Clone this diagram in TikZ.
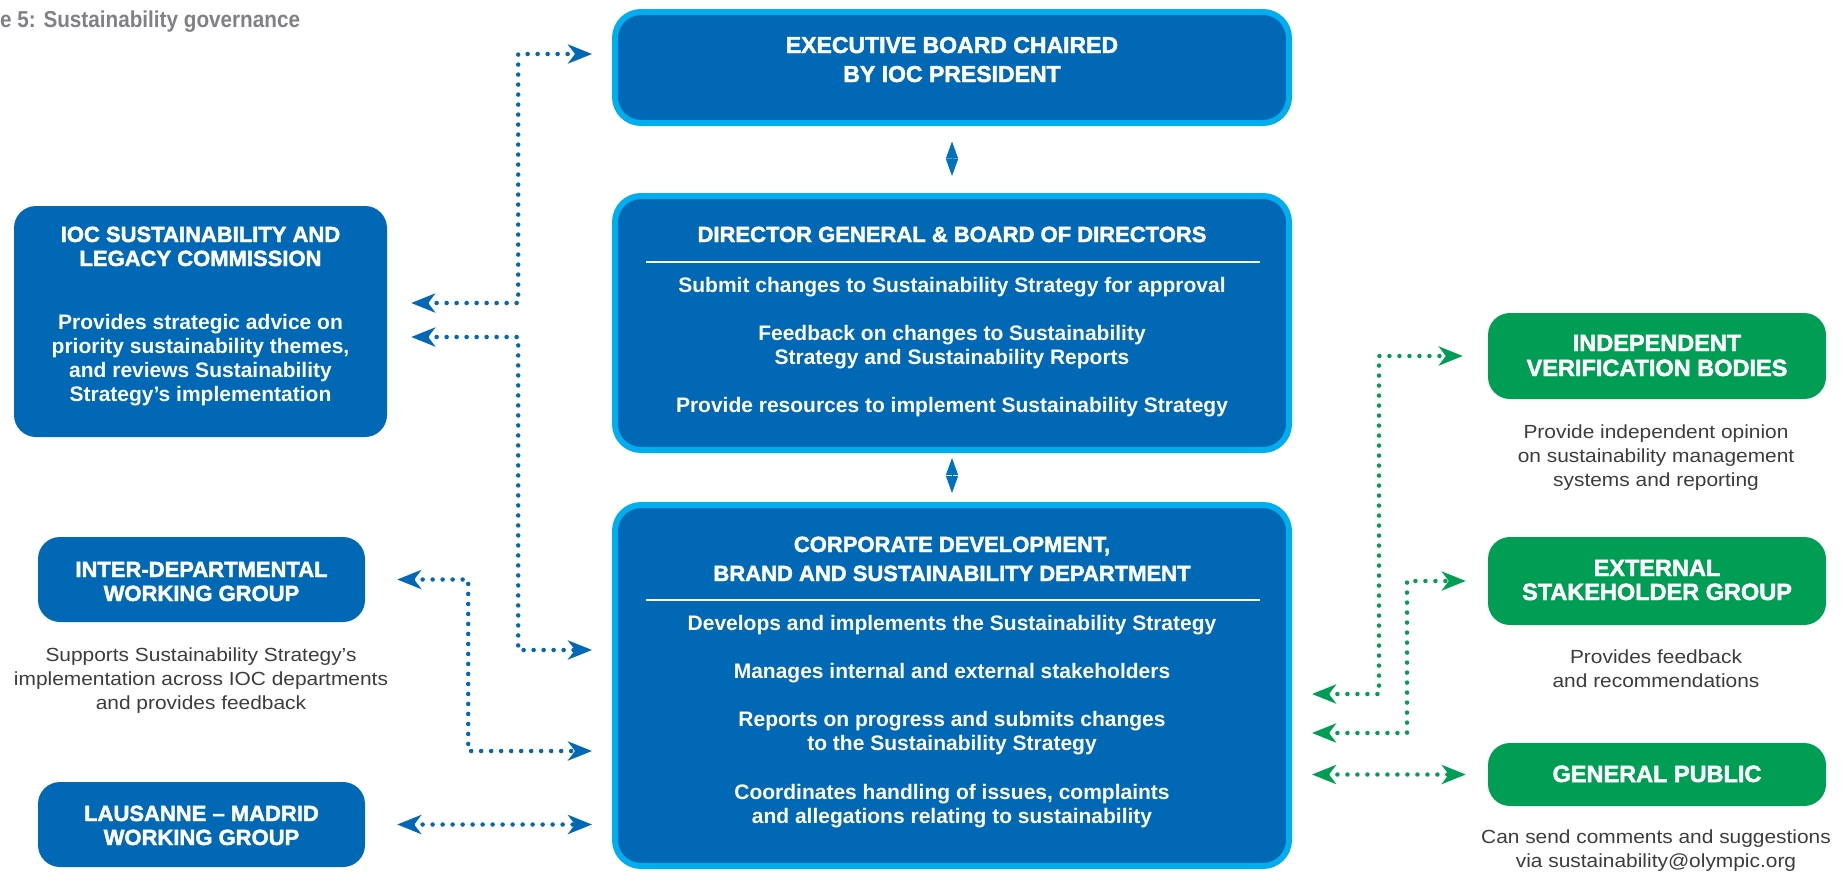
\documentclass[tikz,border=0pt]{standalone}
\usepackage{fontspec}
\setmainfont{Liberation Sans}
\newfontfamily\headfont{Liberation Sans}[UprightFont = * Bold, FakeBold=2]
\newfontfamily\notefont{Liberation Sans}[FakeStretch=1.1]
\newfontfamily\figfont{Liberation Sans}[FakeStretch=0.9]
\usetikzlibrary{arrows.meta}

\definecolor{iocblue}{RGB}{0,104,180}
\definecolor{iocsky}{RGB}{0,174,239}
\definecolor{iocgreen}{RGB}{0,158,84}
\definecolor{figgray}{RGB}{128,128,133}
\definecolor{notegray}{RGB}{60,60,60}

\begin{document}
\begin{tikzpicture}[
        x=1pt, y=-1pt,
        mainbox/.style = {draw=iocsky, line width=6pt, fill=iocblue, rounded corners=26pt},
        sidebox/.style = {fill=iocblue, rounded corners=22pt},
        greenbox/.style = {fill=iocgreen, rounded corners=22pt},
        head/.style = {text=white, align=center, anchor=base, inner sep=0pt,
                font=\headfont\fontsize{22pt}{#1}\selectfont},
        head/.default = 29pt,
        greenhead/.style = {head=#1, font=\headfont\fontsize{23.5pt}{#1}\selectfont},
        greenhead/.default = 25pt,
        body/.style = {text=white, align=center, anchor=base, inner sep=0pt,
                font=\bfseries\fontsize{21pt}{24pt}\selectfont},
        note/.style = {text=notegray, align=center, anchor=base, inner sep=0pt,
                font=\notefont\fontsize{19pt}{24pt}\selectfont},
        link/.style = {line width=4.5pt, dash pattern=on 0pt off 10pt, line cap=round,
                >={Stealth[length=24pt,width=19pt,inset=7pt]}, <->},
        updown/.style = {line width=1pt, iocblue!85!iocsky,
                <->, >={Triangle[length=17pt,width=12pt]}}
    ]
    \useasboundingbox (0,0) rectangle (1843,871);

    \node[text=figgray, anchor=base west, inner sep=0pt,
        font=\figfont\bfseries\fontsize{23pt}{28pt}\selectfont] (fig) at (0,27)
        {e 5: Sustainability governance};

    % central column (a node's base is the baseline of its last line)
    \node[mainbox, minimum width=674pt, minimum height=111pt] (exec) at (952,67.5) {};
    \node[mainbox, minimum width=674pt, minimum height=254pt] (dir) at (952,323) {};
    \node[mainbox, minimum width=674pt, minimum height=361pt] (corp) at (952,685.5) {};

    \node[head, font=\headfont\fontsize{23pt}{29pt}\selectfont] (execT) at (952,82)
        {EXECUTIVE BOARD CHAIRED\\BY IOC PRESIDENT};

    \node[head] (dirT) at (952,242) {DIRECTOR GENERAL \& BOARD OF DIRECTORS};
    \draw[white, line width=2.5pt] (646,262) -- (1260,262);
    \node[body] (dirA) at (952,292) {Submit changes to Sustainability Strategy for approval};
    \node[body] (dirB) at (952,364) {Feedback on changes to Sustainability\\Strategy and Sustainability Reports};
    \node[body] (dirC) at (952,412) {Provide resources to implement Sustainability Strategy};

    \node[head] (corpT) at (952,581) {CORPORATE DEVELOPMENT,\\BRAND AND SUSTAINABILITY DEPARTMENT};
    \draw[white, line width=2.5pt] (646,600) -- (1260,600);
    \node[body] (corpA) at (952,630) {Develops and implements the Sustainability Strategy};
    \node[body] (corpB) at (952,678) {Manages internal and external stakeholders};
    \node[body] (corpC) at (952,750) {Reports on progress and submits changes\\to the Sustainability Strategy};
    \node[body] (corpD) at (952,823) {Coordinates handling of issues, complaints\\and allegations relating to sustainability};

    \draw[updown, shorten <=15.5pt, shorten >=17pt] (exec) -- (dir);
    \draw[updown, shorten <=5pt, shorten >=9pt] (dir) -- (corp);

    % left column
    \node[sidebox, minimum width=373pt, minimum height=231pt] (iocsus) at (200.5,321.5) {};
    \node[head=24pt] (iocsusT) at (200.5,266) {IOC SUSTAINABILITY AND\\LEGACY COMMISSION};
    \node[body] (iocsusB) at (200.5,401) {Provides strategic advice on\\priority sustainability themes,\\and reviews Sustainability\\Strategy’s implementation};

    \node[sidebox, minimum width=327pt, minimum height=85pt] (inter) at (201.5,579.5) {};
    \node[head=24pt] (interT) at (201.5,601) {INTER-DEPARTMENTAL\\WORKING GROUP};
    \node[note] (interN) at (201,709) {Supports Sustainability Strategy’s\\implementation across IOC departments\\and provides feedback};

    \node[sidebox, minimum width=327pt, minimum height=85pt] (laus) at (201.5,824.5) {};
    \node[head=24pt] (lausT) at (201.5,845) {LAUSANNE – MADRID\\WORKING GROUP};

    % right column
    \node[greenbox, minimum width=338pt, minimum height=86pt] (ind) at (1657,356) {};
    \node[greenhead] (indT) at (1657,376) {INDEPENDENT\\VERIFICATION BODIES};
    \node[note] (indN) at (1656,486) {Provide independent opinion\\on sustainability management\\systems and reporting};

    \node[greenbox, minimum width=338pt, minimum height=88pt] (ext) at (1657,581) {};
    \node[greenhead=24pt] (extT) at (1657,600) {EXTERNAL\\STAKEHOLDER GROUP};
    \node[note] (extN) at (1656,687) {Provides feedback\\and recommendations};

    \node[greenbox, minimum width=338pt, minimum height=63pt] (pub) at (1657,774.5) {};
    \node[greenhead] (pubT) at (1657,782) {GENERAL PUBLIC};
    \node[note] (pubN) at (1656,867) {Can send comments and suggestions\\via sustainability@olympic.org};

    % connectors
    \draw[link, iocblue, shorten <=24pt, shorten >=20pt]
        ([yshift=18.5pt]iocsus.east) -- ++(131,0) |- ([yshift=13.5pt]exec.west);
    \draw[link, iocblue, shorten <=24pt, shorten >=20pt]
        ([yshift=-15.5pt]iocsus.east) -- ++(131,0) |- ([yshift=35.5pt]corp.west);
    \draw[link, iocblue, shorten <=32pt, shorten >=20pt]
        (inter.east) -- ++(103,0) |- ([yshift=-65.5pt]corp.west);
    \draw[link, iocblue, shorten <=32pt, shorten >=20pt]
        (laus.east) -- (laus.east -| corp.west);

    \draw[link, iocgreen, shorten <=20pt, shorten >=25pt]
        ([yshift=-8.5pt]corp.east) -- ++(87,0) |- (ind.west);
    \draw[link, iocgreen, shorten <=20pt, shorten >=22pt]
        ([yshift=-47.5pt]corp.east) -- ++(115,0) |- (ext.west);
    \draw[link, iocgreen, shorten <=20pt, shorten >=22pt]
        (pub.west -| corp.east) -- (pub.west);
\end{tikzpicture}
\end{document}
